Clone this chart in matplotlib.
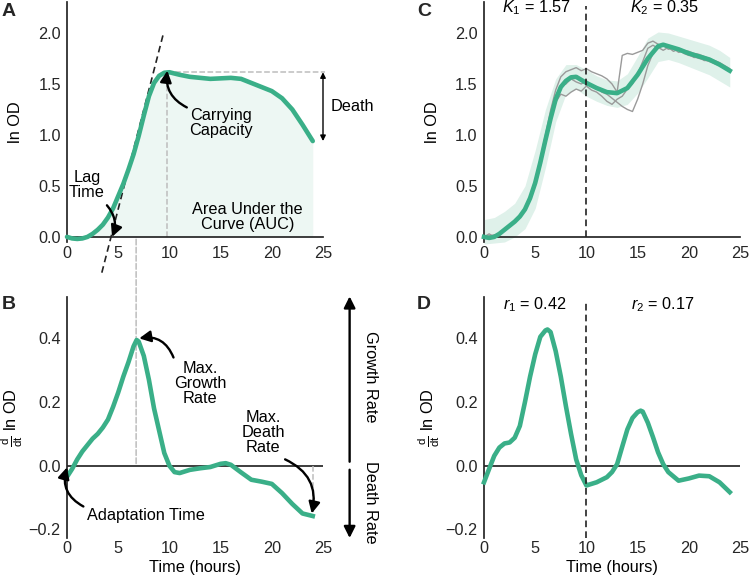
import matplotlib
matplotlib.use("Agg")
import matplotlib.pyplot as plt
from matplotlib.patches import ConnectionPatch

plt.rcParams['font.family'] = ['Liberation Sans', 'DejaVu Sans']
plt.rcParams['mathtext.fontset'] = 'custom'
plt.rcParams['mathtext.rm'] = 'Liberation Sans'
plt.rcParams['mathtext.it'] = 'Liberation Sans:italic'
plt.rcParams['mathtext.bf'] = 'Liberation Sans:bold'
FS = 11.7
plt.rcParams['font.size'] = FS

# ---------------- data ----------------
# Panel A: ln OD example curve
a_time = [0, 0.5, 1, 1.5, 2, 2.5, 3, 3.5, 4, 4.5, 5, 5.5, 6, 6.5, 7, 7.5, 8, 8.5, 9, 9.5,
          10, 11, 12, 13, 14, 15, 16, 17, 18, 19, 20, 21, 22, 23, 24]
a_lnod = [0.0, -0.015, -0.02, -0.015, 0.0, 0.03, 0.07, 0.12, 0.19, 0.28, 0.40, 0.52, 0.66, 0.81,
          0.99, 1.19, 1.38, 1.51, 1.58, 1.61, 1.615, 1.59, 1.57, 1.56, 1.55, 1.555, 1.56, 1.55,
          1.51, 1.47, 1.43, 1.36, 1.25, 1.10, 0.94]

# Panel B: growth rate curve
b_time = [0, 0.5, 1, 1.5, 2, 2.5, 3, 3.5, 4, 4.5, 5, 5.5, 6, 6.5, 6.8, 7, 7.5, 8, 8.5, 9, 9.5,
          10, 10.5, 11, 12, 13, 14, 15, 15.5, 16, 17, 18, 19, 20, 21, 22, 23, 24]
b_rate = [-0.035, -0.01, 0.02, 0.045, 0.065, 0.085, 0.10, 0.12, 0.145, 0.185, 0.23, 0.28, 0.325,
          0.375, 0.395, 0.39, 0.345, 0.27, 0.18, 0.11, 0.04, 0.0, -0.02, -0.023, -0.013, -0.008,
          -0.004, 0.006, 0.008, 0.003, -0.021, -0.044, -0.05, -0.057, -0.086, -0.12, -0.15, -0.158]

# Panel C: GP fit of ln OD with confidence band, plus replicates
c_time = [0, 0.5, 1, 1.5, 2, 2.5, 3, 3.5, 4, 4.5, 5, 5.5, 6, 6.5, 7, 7.5, 8, 8.5, 9, 10, 11,
          12, 13, 14, 15, 16, 17, 17.5, 18, 19, 20, 21, 22, 23, 24]
c_lnod = [0.0, -0.01, 0.0, 0.03, 0.07, 0.11, 0.15, 0.20, 0.27, 0.38, 0.53, 0.73, 0.95, 1.16,
          1.35, 1.47, 1.53, 1.565, 1.57, 1.51, 1.46, 1.42, 1.41, 1.46, 1.59, 1.75, 1.87, 1.885,
          1.87, 1.84, 1.80, 1.77, 1.74, 1.69, 1.63]
band_time = list(range(0, 25))
band_upper = [0.17, 0.19, 0.25, 0.33, 0.50, 0.85, 1.25, 1.55, 1.69, 1.69, 1.64, 1.58, 1.54,
              1.53, 1.60, 1.77, 1.95, 2.01, 2.00, 1.97, 1.94, 1.91, 1.88, 1.83, 1.76]
band_lower = [-0.07, -0.06, -0.05, 0.0, 0.08, 0.28, 0.68, 1.13, 1.40, 1.45, 1.38, 1.33, 1.29,
              1.27, 1.30, 1.41, 1.56, 1.72, 1.74, 1.71, 1.67, 1.63, 1.59, 1.53, 1.47]

rep_time = [0, 0.5, 1, 1.5, 2, 2.5, 3, 3.5, 4, 4.5, 5, 5.5, 6, 6.5, 7, 7.5, 8, 8.5, 9, 9.5,
            10, 10.5, 11, 11.5, 12, 12.5, 13, 13.5, 14, 14.5, 15, 15.5, 16, 16.5, 17, 17.5,
            18, 18.5, 19, 19.5, 20, 20.5, 21, 21.5, 22, 22.5, 23, 23.5, 24]
rep1 = [0.0, 0.03, 0.0, 0.03, 0.06, 0.10, 0.15, 0.21, 0.28, 0.40, 0.56, 0.77, 1.00, 1.24,
        1.44, 1.57, 1.62, 1.64, 1.66, 1.63, 1.65, 1.62, 1.60, 1.58, 1.55, 1.50, 1.42, 1.78,
        1.80, 1.79, 1.81, 1.83, 1.90, 1.92, 1.89, 1.87, 1.88, 1.86, 1.85, 1.83, 1.82, 1.80,
        1.79, 1.77, 1.75, 1.73, 1.71, 1.68, 1.65]
rep2 = [0.0, 0.01, 0.02, 0.02, 0.07, 0.11, 0.15, 0.19, 0.27, 0.37, 0.52, 0.72, 0.96, 1.18,
        1.38, 1.48, 1.50, 1.55, 1.52, 1.50, 1.53, 1.48, 1.47, 1.42, 1.40, 1.36, 1.32, 1.28,
        1.25, 1.23, 1.35, 1.50, 1.68, 1.80, 1.86, 1.83, 1.86, 1.82, 1.84, 1.80, 1.78, 1.77,
        1.75, 1.74, 1.72, 1.70, 1.68, 1.65, 1.62]
rep3 = [0.0, 0.0, 0.01, 0.03, 0.06, 0.10, 0.14, 0.20, 0.26, 0.36, 0.50, 0.70, 0.93, 1.14,
        1.32, 1.40, 1.38, 1.42, 1.45, 1.43, 1.48, 1.44, 1.42, 1.38, 1.33, 1.30, 1.35, 1.38,
        1.45, 1.50, 1.60, 1.72, 1.85, 1.88, 1.85, 1.88, 1.84, 1.85, 1.81, 1.82, 1.79, 1.76,
        1.76, 1.73, 1.73, 1.71, 1.68, 1.66, 1.63]

# Panel D: growth rate from GP
d_time = [0, 0.5, 1, 1.5, 2, 2.5, 3, 3.5, 4, 4.5, 5, 5.5, 6, 6.2, 6.5, 7, 7.5, 8, 8.5, 9, 9.5,
          10, 11, 12, 12.5, 13, 13.5, 14, 14.5, 15, 15.3, 15.5, 16, 16.5, 17, 17.5, 18, 19, 20,
          21, 22, 23, 24]
d_rate = [-0.052, -0.01, 0.031, 0.057, 0.07, 0.073, 0.088, 0.125, 0.20, 0.28, 0.35, 0.405,
          0.425, 0.428, 0.42, 0.36, 0.28, 0.187, 0.10, 0.02, -0.03, -0.062, -0.052, -0.036,
          -0.02, 0.005, 0.06, 0.114, 0.15, 0.168, 0.173, 0.17, 0.135, 0.09, 0.042, 0.005,
          -0.02, -0.047, -0.04, -0.031, -0.033, -0.052, -0.083]

k_labels = [r'$K_1$ = 1.57', r'$K_2$ = 0.35']
r_labels = [r'$r_1$ = 0.42', r'$r_2$ = 0.17']

# ---------------- style ----------------
GREEN = '#3aaf88'
FILL = '#edf7f3'
BAND = '#dff1ea'
SPINE = '#262626'
GREYD = '#bdbdbd'
LW = 3.3

W, H = 750, 578
fig = plt.figure(figsize=(7.5, 5.78), dpi=100)

def px_axes(left, top, right, bottom):
    return fig.add_axes([left / W, 1 - bottom / H, (right - left) / W, (bottom - top) / H])

axA = px_axes(67, 2.4, 323, 242)
axB = px_axes(67, 297, 323, 538)
axC = px_axes(484, 2.4, 740, 242)
axD = px_axes(484, 297, 740, 538)

for ax in (axA, axB, axC, axD):
    ax.patch.set_alpha(0)
    for s in ('top', 'right'):
        ax.spines[s].set_visible(False)
    for s in ('left', 'bottom'):
        ax.spines[s].set_color(SPINE)
        ax.spines[s].set_linewidth(1.25)
    ax.set_xlim(0, 25)
    ax.set_xticks([0, 5, 10, 15, 20, 25])
    ax.tick_params(length=0, labelsize=FS, colors='#262626')
    ax.tick_params(axis='y', pad=4.5)

for ax in (axA, axC):
    ax.set_ylim(-0.05, 2.3)
    ax.set_yticks([0.0, 0.5, 1.0, 1.5, 2.0])
    ax.set_yticklabels(['0.0', '0.5', '1.0', '1.5', '2.0'])
    ax.spines['bottom'].set_position(('data', 0))
    ax.tick_params(axis='x', pad=6.5)
    ax.set_ylabel('ln OD', fontsize=FS)
    ax.yaxis.set_label_coords(-0.17, 0.5)

for ax in (axB, axD):
    ax.set_ylim(-0.227, 0.53)
    ax.set_yticks([-0.2, 0.0, 0.2, 0.4])
    ax.set_yticklabels(['\u22120.2', '0.0', '0.2', '0.4'])
    ax.spines['bottom'].set_visible(False)
    ax.tick_params(axis='x', pad=2)
    ax.axhline(0, color=SPINE, lw=1.25, zorder=1)
    ax.set_ylabel(r'$\frac{\mathrm{d}}{\mathrm{dt}}$ ln OD', fontsize=FS)
    ax.yaxis.set_label_coords(-0.165, 0.5)
    ax.set_xlabel('Time (hours)', fontsize=FS, labelpad=3)

arrow_kw = dict(arrowstyle='-|>', color='black', lw=1.7, mutation_scale=17, shrinkA=0, shrinkB=0)

# ---------------- Panel A ----------------
axA.fill_between(a_time, a_lnod, 0, color=FILL, lw=0, zorder=0)
axA.plot(a_time, a_lnod, color=GREEN, lw=LW, zorder=3, clip_on=False, solid_capstyle='round')
# tangent line at max growth
tx = [3.4, 9.4]
axA.plot(tx, [0.39 * (x - 4.3) for x in tx], ls='--', color='#222222', lw=1.2,
         clip_on=False, zorder=2, dashes=(4, 2.5))
# carrying capacity guides
axA.plot([9.8, 9.8], [0, 1.615], ls='--', color=GREYD, lw=1.1, zorder=1)
axA.plot([9.8, 25.2], [1.615, 1.615], ls='--', color=GREYD, lw=1.1, zorder=1, clip_on=False)
axA.annotate('', xy=(25.0, 0.94), xytext=(25.0, 1.615),
             arrowprops=dict(arrowstyle='<|-|>', color='black', lw=1.0, mutation_scale=8,
                             shrinkA=0, shrinkB=0), annotation_clip=False)
axA.text(25.7, 1.28, 'Death', ha='left', va='center', fontsize=FS)
axA.annotate('', xy=(9.8, 1.63), xytext=(11.7, 1.27),
             arrowprops=dict(connectionstyle='arc3,rad=-0.35', **arrow_kw))
axA.text(15.0, 1.12, 'Carrying\nCapacity', ha='center', va='center', fontsize=FS,
         linespacing=1.0)
axA.annotate('', xy=(4.4, 0.0), xytext=(3.9, 0.31),
             arrowprops=dict(connectionstyle='arc3,rad=-0.3', **arrow_kw))
axA.text(1.95, 0.51, 'Lag\nTime', ha='center', va='center', fontsize=FS, linespacing=1.0)
axA.text(17.6, 0.2, 'Area Under the\nCurve (AUC)', ha='center', va='center', fontsize=FS,
         linespacing=1.0)

# ---------------- Panel B ----------------
axB.plot(b_time, b_rate, color=GREEN, lw=LW, zorder=3, clip_on=False)
axB.plot([24, 24], [0, -0.155], ls='--', color=GREYD, lw=1.1, zorder=1)
con = ConnectionPatch(xyA=(6.75, 0.93), coordsA=axA.transData, xyB=(6.75, 0.0),
                      coordsB=axB.transData, ls='--', color=GREYD, lw=1.1, zorder=0)
fig.add_artist(con)
axB.annotate('', xy=(7.05, 0.40), xytext=(10.4, 0.34),
             arrowprops=dict(connectionstyle='arc3,rad=0.4', **arrow_kw))
axB.text(13.0, 0.259, 'Max.\nGrowth\nRate', ha='center', va='center', fontsize=FS,
         linespacing=1.0)
axB.annotate('', xy=(23.9, -0.15), xytext=(21.3, 0.02),
             arrowprops=dict(connectionstyle='arc3,rad=-0.4', **arrow_kw))
axB.text(19.15, 0.105, 'Max.\nDeath\nRate', ha='center', va='center', fontsize=FS,
         linespacing=1.0)
axB.annotate('', xy=(0.0, -0.005), xytext=(1.6, -0.128),
             arrowprops=dict(connectionstyle='arc3,rad=-0.4', **arrow_kw),
             annotation_clip=False)
axB.text(2.0, -0.155, 'Adaptation Time', ha='left', va='center', fontsize=FS)
# growth / death rate direction arrows
axB.annotate('', xy=(27.6, 0.532), xytext=(27.6, 0.0126),
             arrowprops=arrow_kw, annotation_clip=False)
axB.annotate('', xy=(27.6, -0.227), xytext=(27.6, -0.0126),
             arrowprops=arrow_kw, annotation_clip=False)
axB.text(29.6, 0.28, 'Growth Rate', rotation=-90, ha='center', va='center', fontsize=FS,
         clip_on=False)
axB.text(29.6, -0.114, 'Death Rate', rotation=-90, ha='center', va='center', fontsize=FS,
         clip_on=False)

# ---------------- Panel C ----------------
axC.fill_between(band_time, band_lower, band_upper, color=BAND, lw=0, zorder=0, clip_on=False)
for rep in (rep1, rep2, rep3):
    axC.plot(rep_time, rep, color='#9a9a9a', lw=1.0, zorder=2)
axC.plot(c_time, c_lnod, color=GREEN, lw=LW, zorder=3, clip_on=False)
axC.axvline(10, ymin=0.02, ymax=0.985, ls='--', color='#222222', lw=1.2, dashes=(4, 2.5),
            zorder=4)
axC.text(5.1, 2.245, k_labels[0], ha='center', va='center', fontsize=FS)
axC.text(17.6, 2.245, k_labels[1], ha='center', va='center', fontsize=FS)

# ---------------- Panel D ----------------
axD.plot(d_time, d_rate, color=GREEN, lw=LW, zorder=3, clip_on=False)
axD.axvline(10, ymin=0.0, ymax=0.975, ls='--', color='#222222', lw=1.2, dashes=(4, 2.5),
            zorder=4)
axD.text(5.0, 0.507, r_labels[0], ha='center', va='center', fontsize=FS)
axD.text(17.5, 0.507, r_labels[1], ha='center', va='center', fontsize=FS)

# panel letters
for lab, x, y in (('A', 2, 3), ('B', 2, 296), ('C', 417, 3), ('D', 417, 296)):
    fig.text(x / W, 1 - y / H, lab, fontsize=14, fontweight='bold', ha='left', va='top',
             color='#262626')

fig.savefig('out.png', dpi=100)
